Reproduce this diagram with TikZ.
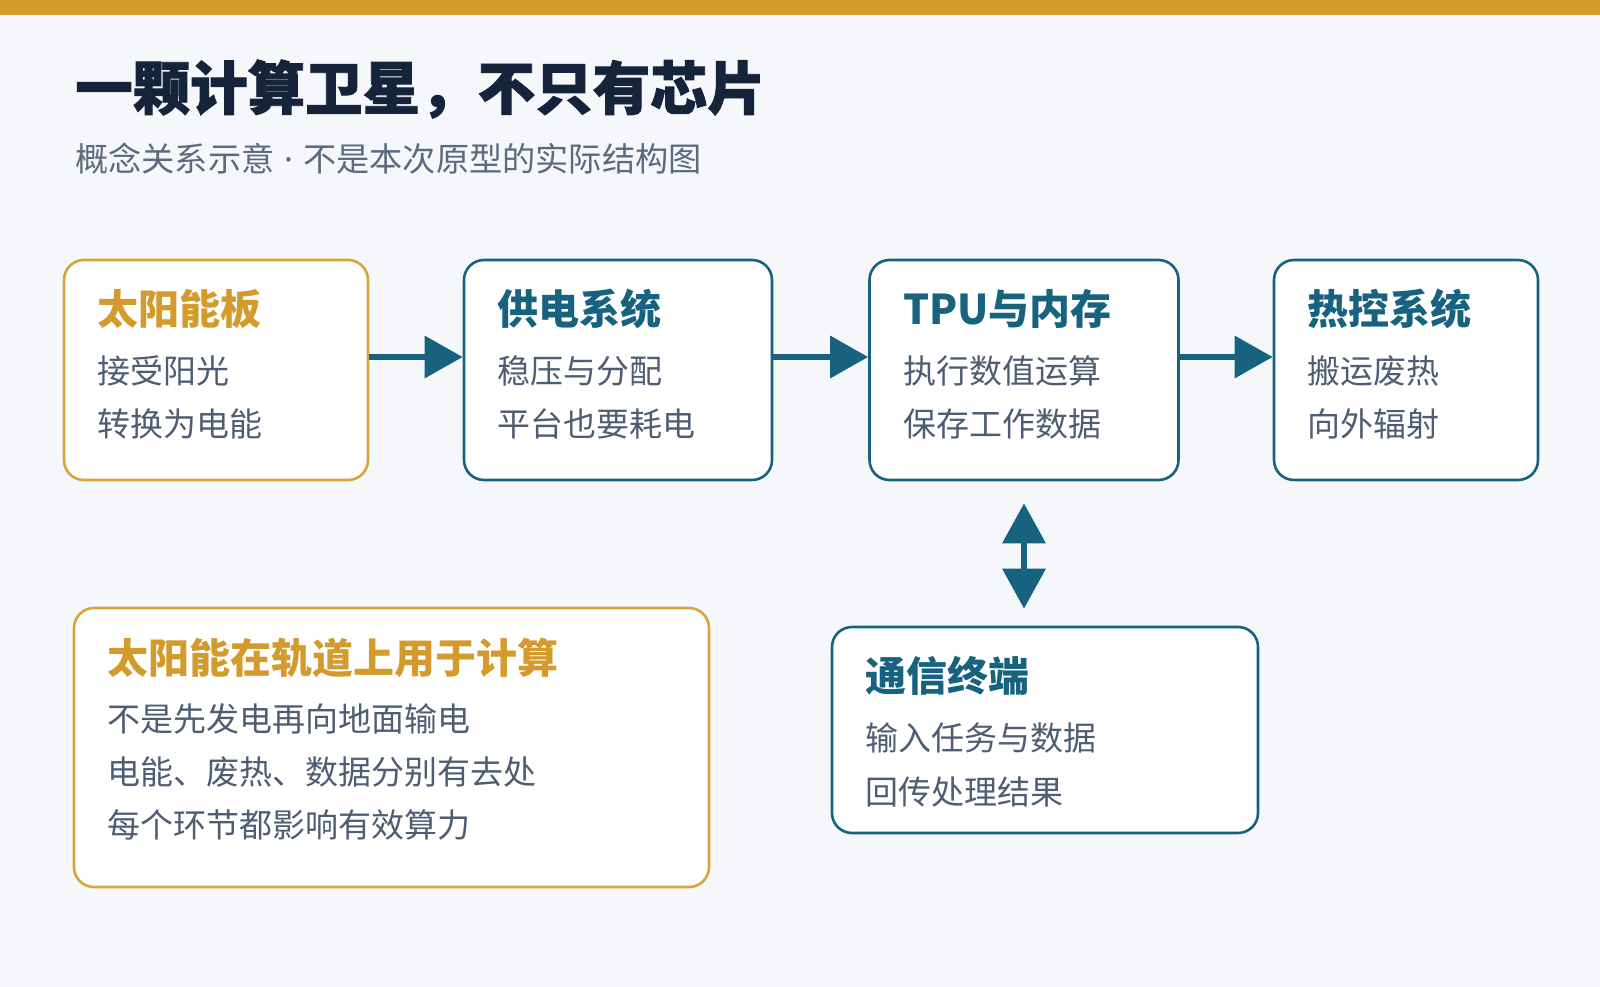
\documentclass[tikz,border=0pt]{standalone}
\usepackage{fontspec}
\setmainfont{Noto Sans CJK SC}
\newfontfamily\titlefont{Noto Sans CJK SC}[BoldFeatures={FakeBold=1.6}]
\newfontfamily\dotfont{Noto Sans}
\usetikzlibrary{arrows.meta}
\definecolor{bgc}{HTML}{F5F7FB}
\definecolor{gold}{HTML}{D49B2C}
\definecolor{goldline}{HTML}{D9A43C}
\definecolor{teal}{HTML}{17637F}
\definecolor{navy}{HTML}{15243B}
\definecolor{subg}{HTML}{5B6A7E}
\definecolor{bodyg}{HTML}{4E5D73}
\tikzset{
  box/.style={draw, line width=2.6pt, rounded corners=20pt, fill=white, inner sep=0pt},
  gbox/.style={box, draw=goldline},
  tbox/.style={box, draw=teal},
  headg/.style={anchor=west, inner sep=0pt, text=gold, font=\fontsize{41}{48}\selectfont\bfseries},
  headt/.style={anchor=west, inner sep=0pt, text=teal, font=\fontsize{41}{48}\selectfont\bfseries},
  bodytxt/.style={anchor=west, inner sep=0pt, text=bodyg, font=\fontsize{33}{40}\selectfont},
  flow/.style={draw=teal, line width=6.5pt, -{Triangle[length=38pt,width=41pt]}},
  dflow/.style={draw=teal, line width=6.5pt, {Triangle[length=40pt,width=42pt]}-{Triangle[length=40pt,width=42pt]}}
}
\begin{document}
\begin{tikzpicture}[x=1pt,y=-1pt]
\fill[bgc] (0,0) rectangle (1600,987);
\useasboundingbox (0,0) rectangle (1600,987);
\fill[gold] (0,0) rectangle (1600,15);
\node[anchor=west, inner sep=0pt, text=navy, font=\fontsize{57.5}{64}\titlefont\bfseries] (title) at (75,89) {一颗计算卫星，不只有芯片};
\node[anchor=west, inner sep=0pt, text=subg, font=\fontsize{33.2}{38}\selectfont] (sub) at (75,159) {概念关系示意{\dotfont\hspace{10pt}·\hspace{10pt}}不是本次原型的实际结构图};

\node[gbox, minimum width=304pt, minimum height=220pt] (b1) at (216,370) {};
\node[tbox, minimum width=308pt, minimum height=220pt] (b2) at (618,370) {};
\node[tbox, minimum width=309pt, minimum height=220pt] (b3) at (1024,370) {};
\node[tbox, minimum width=264pt, minimum height=220pt] (b4) at (1406,370) {};
\node[tbox, minimum width=426pt, minimum height=206pt] (b5) at (1045,730) {};
\node[gbox, minimum width=635pt, minimum height=279pt] (b6) at (391.5,747.5) {};

\node[headg] (h1) at (97,309) {太阳能板};
\node[bodytxt] (t1a) at (97,371) {接受阳光};
\node[bodytxt] (t1b) at (97,424) {转换为电能};

\node[headt] (h2) at (497,309) {供电系统};
\node[bodytxt] (t2a) at (497,371) {稳压与分配};
\node[bodytxt] (t2b) at (497,424) {平台也要耗电};

\node[headt] (h3) at (903,309) {TPU与内存};
\node[bodytxt] (t3a) at (903,371) {执行数值运算};
\node[bodytxt] (t3b) at (903,424) {保存工作数据};

\node[headt] (h4) at (1307,309) {热控系统};
\node[bodytxt] (t4a) at (1307,371) {搬运废热};
\node[bodytxt] (t4b) at (1307,424) {向外辐射};

\node[headt] (h5) at (865,676) {通信终端};
\node[bodytxt] (t5a) at (865,738) {输入任务与数据};
\node[bodytxt] (t5b) at (865,792) {回传处理结果};

\node[headg] (h6) at (107,658) {太阳能在轨道上用于计算};
\node[bodytxt] (t6a) at (107,719) {不是先发电再向地面输电};
\node[bodytxt] (t6b) at (107,772) {电能、废热、数据分别有去处};
\node[bodytxt] (t6c) at (107,825) {每个环节都影响有效算力};

\draw[flow] ([yshift=13pt]b1.east) -- ([yshift=13pt]b2.west);
\draw[flow] ([yshift=13pt]b2.east) -- ([yshift=13pt]b3.west);
\draw[flow] ([yshift=13pt]b3.east) -- ([yshift=13pt]b4.west);
\coordinate (vtop) at ([yshift=-22pt]b3.south);
\coordinate (vbot) at ([yshift=17pt]b3.south |- b5.north);
\draw[dflow] (vtop) -- (vbot);
\end{tikzpicture}
\end{document}
